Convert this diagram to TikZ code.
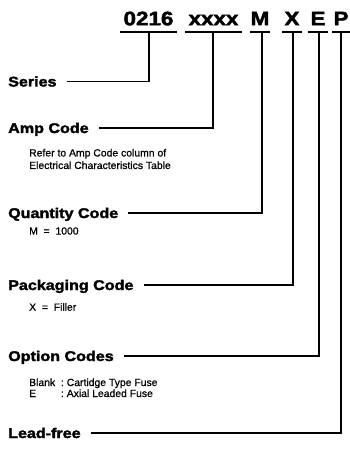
\documentclass[tikz,border=0pt]{standalone}
\usepackage{fontspec}
\setmainfont{Liberation Sans}[FakeBold=0.6]
\newfontfamily\heavy{Liberation Sans}[FakeStretch=1.15, FakeBold=2.2]
\newfontfamily\notefont{Liberation Sans}[FakeBold=0.8]
\begin{document}
\begin{tikzpicture}[x=1pt,y=-1pt,
  lbl/.style={anchor=west, font=\heavy\bfseries\fontsize{14}{16}\selectfont, inner sep=0pt, text height=10pt, text depth=0pt},
  note/.style={anchor=west, font=\notefont\fontsize{10.4}{12.5}\selectfont, inner sep=0pt, align=left},
  code/.style={font=\heavy\bfseries\fontsize{19.5}{22}\selectfont, inner sep=0pt, text height=13.5pt, text depth=0pt},
  conn/.style={line width=1.3pt},
  uline/.style={line width=2pt}]
\useasboundingbox[fill=white] (0,0) rectangle (350,449);

% code characters
\node[code, minimum width=57pt] (c0) at (148.5,18.5) {0216};
\node[code, minimum width=57pt] (c1) at (213.5,18.5) {xxxx};
\node[code, minimum width=20pt] (c2) at (260,18.5) {M};
\node[code, minimum width=20pt] (c3) at (292,18.5) {X};
\node[code, minimum width=19pt] (c4) at (318,18.5) {E};
\node[code, minimum width=18pt] (c5) at (341,18.5) {P};

\foreach \n in {c0,c1,c2,c3,c4,c5}
  \draw[uline] ([yshift=-7pt]\n.south west) -- ([yshift=-7pt]\n.south east);

% tops of the connectors on the underlines
\coordinate (t0) at (149,32);
\coordinate (t1) at (213,32);
\coordinate (t2) at (262,32);
\coordinate (t3) at (293,32);
\coordinate (t4) at (319,32);
\coordinate (t5) at (341,32);

% labels
\node[lbl] (series) at (8,81.5) {Series};
\node[lbl] (amp) at (8,128) {Amp Code};
\node[note] (ampnote) at (29,159) {Refer to Amp Code column of\\Electrical Characteristics Table};
\node[lbl] (qty) at (8,213) {Quantity Code};
\node[note] (qtynote) at (29,231) {M\ \ =\ \ 1000};
\node[lbl] (pack) at (8,285) {Packaging Code};
\node[note] (packnote) at (29,307) {X\ \ =\ \ Filler};
\node[lbl] (opt) at (8,356) {Option Codes};
\node[note] (optnote) at (29,389) {\begin{tabular}{@{}l@{\ \ :\ }l@{}}Blank & Cartidge Type Fuse\\[-1.5pt] E & Axial Leaded Fuse\end{tabular}};
\node[lbl] (lead) at (8,433) {Lead-free};

% connectors
\draw[conn] ([xshift=10pt]series.east) -| (t0);
\draw[conn] ([xshift=10pt]amp.east) -| (t1);
\draw[conn] ([xshift=10pt]qty.east) -| (t2);
\draw[conn] ([xshift=10pt]pack.east) -| (t3);
\draw[conn] ([xshift=10pt]opt.east) -| (t4);
\draw[conn] ([xshift=10pt]lead.east) -| (t5);
\end{tikzpicture}
\end{document}
